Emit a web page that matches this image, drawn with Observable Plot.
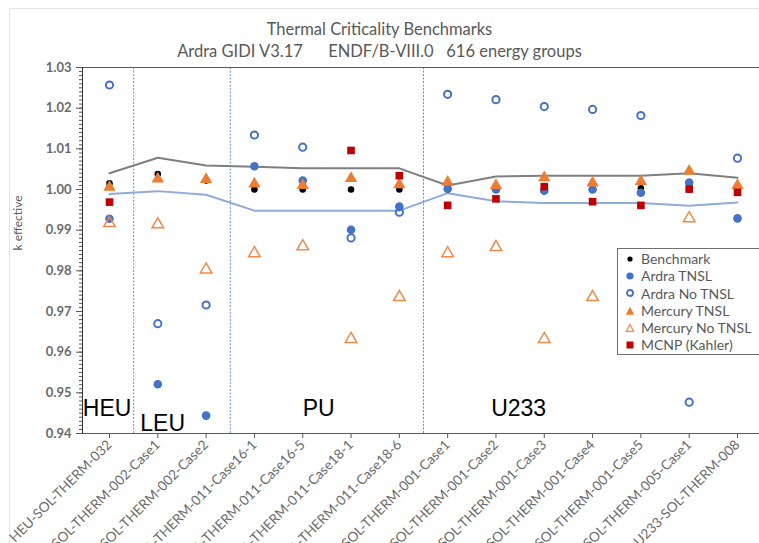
<!DOCTYPE html>
<html>
<head>
<meta charset="utf-8">
<script src="https://cdn.jsdelivr.net/npm/d3@7"></script>
<script src="https://cdn.jsdelivr.net/npm/@observablehq/plot@0.6"></script>
<style>
  html, body { margin: 0; padding: 0; background: #fff; }
  #wrap { position: relative; width: 759px; height: 543px; overflow: hidden; font-family: Lato, "Open Sans", sans-serif; }
  #wrap > svg { position: absolute; left: 0; top: 0; }
  #sheet { position: absolute; left: 9px; top: 8px; width: 760px; height: 540px; border-top: 1px solid #e3e3e3; border-left: 1px solid #e3e3e3; }
  .title { position: absolute; left: 0; width: 759px; text-align: center; color: #595959; font-size: 16.5px; white-space: pre; }
  #legend { position: absolute; left: 617px; top: 248px; width: 150px; height: 107px; border: 1px solid #6f6f6f; background: #fff; box-sizing: border-box; padding-top: 1px; }
  .li { height: 17.3px; line-height: 17.3px; font-size: 14px; color: #595959; display: flex; align-items: center; }
  .li svg { margin-left: 7px; margin-right: 6px; }
</style>
</head>
<body>
<div id="wrap">
  <div id="sheet"></div>
  <div class="title" style="top:19px">Thermal Criticality Benchmarks</div>
  <div class="title" style="top:41px">Ardra GIDI V3.17      ENDF/B-VIII.0   616 energy groups</div>
</div>
<script>
const categories = [
  "HEU-SOL-THERM-032",
  "LEU-SOL-THERM-002-Case1",
  "LEU-SOL-THERM-002-Case2",
  "PU-SOL-THERM-011-Case16-1",
  "PU-SOL-THERM-011-Case16-5",
  "PU-SOL-THERM-011-Case18-1",
  "PU-SOL-THERM-011-Case18-6",
  "U233-SOL-THERM-001-Case1",
  "U233-SOL-THERM-001-Case2",
  "U233-SOL-THERM-001-Case3",
  "U233-SOL-THERM-001-Case4",
  "U233-SOL-THERM-001-Case5",
  "U233-SOL-THERM-005-Case1",
  "U233-SOL-THERM-008"
];
const benchmark    = [1.0015, 1.0038, 1.0022, 1.0000, 1.0000, 1.0000, 1.0000, 1.0000, 1.0000, 1.0000, 1.0000, 1.0003, 1.0000, 1.0000];
const ardraTNSL    = [0.9928, 0.9521, 0.9444, 1.0057, 1.0022, 0.9901, 0.9958, 1.0002, 1.0000, 0.9997, 1.0000, 0.9992, 1.0017, 0.9929];
const ardraNoTNSL  = [1.0257, 0.9670, 0.9716, 1.0134, 1.0104, 0.9881, 0.9944, 1.0234, 1.0221, 1.0204, 1.0197, 1.0182, 0.9477, 1.0077];
const mercuryTNSL  = [1.0006, 1.0026, 1.0025, 1.0014, 1.0010, 1.0027, 1.0012, 1.0018, 1.0010, 1.0029, 1.0016, 1.0020, 1.0045, 1.0010];
const mercuryNoTNSL= [0.9917, 0.9914, 0.9803, 0.9843, 0.9860, 0.9632, 0.9735, 0.9843, 0.9858, 0.9632, 0.9735, null, 0.9929, null];
const mcnpKahler   = [0.9969, null, null, null, null, 1.0096, 1.0034, 0.9961, 0.9977, 1.0007, 0.9970, 0.9961, 1.0001, 0.9993];
const upperBand    = [1.0040, 1.0078, 1.0059, 1.0056, 1.0052, 1.0052, 1.0052, 1.0010, 1.0032, 1.0034, 1.0034, 1.0034, 1.0040, 1.0029];
const lowerBand    = [0.9989, 0.9996, 0.9987, 0.9948, 0.9948, 0.9948, 0.9948, 0.9991, 0.9971, 0.9967, 0.9967, 0.9967, 0.9960, 0.9968];
const separators   = [1.5, 3.5, 7.5];
const regionNames  = ["HEU", "LEU", "PU", "U233"];
const regionX      = [0.95, 2.1, 5.33, 9.47];
const regionY      = [0.9462, 0.9425, 0.9462, 0.9462];
const yTicks       = [0.94, 0.95, 0.96, 0.97, 0.98, 0.99, 1.00, 1.01, 1.02, 1.03];

const idx = categories.map((_, i) => i + 1);
const rows = vals => vals.map((v, i) => ({x: i + 1, y: v})).filter(d => d.y != null);
const minorTicks = d3.range(0, 91).map(i => 0.94 + i * 0.001);
const regions = regionNames.map((n, i) => ({name: n, x: regionX[i], y: regionY[i]}));

const BLUE = "#4472C4", ORANGE = "#ED7D31", RED = "#C00000", AX = "#595959";

const chart = Plot.plot({
  width: 759, height: 543,
  marginLeft: 82, marginRight: 0, marginTop: 67, marginBottom: 110,
  x: {type: "linear", domain: [1, 14], range: [109, 737]},
  y: {domain: [0.94, 1.03]},
  style: {fontFamily: "Lato, 'Open Sans', sans-serif", background: "transparent"},
  marks: [
    Plot.ruleX(separators, {stroke: BLUE, strokeDasharray: "2,1.5", strokeWidth: 1, strokeOpacity: 0.8}),
    Plot.axisY({ticks: minorTicks, tickSize: 3, tickFormat: () => "", label: null, stroke: AX}),
    Plot.axisY({ticks: yTicks, tickSize: 6, tickPadding: 5, tickFormat: d3.format(".2f"), label: null,
      fontSize: 13, fontWeight: "bold", fill: "#6a6a6a", stroke: AX}),
    Plot.axisX({ticks: idx, tickFormat: i => categories[i - 1], tickRotate: -45, tickSize: 5, tickPadding: 4,
      label: null, fontSize: 13.6, fill: "#6a6a6a", stroke: AX}),
    Plot.text(["k effective"], {frameAnchor: "left", dx: -64, rotate: -90, fontSize: 12, fill: AX}),
    Plot.frame({anchor: "top", stroke: AX}),
    Plot.frame({anchor: "left", stroke: "#333"}),
    Plot.frame({anchor: "bottom", stroke: AX}),
    Plot.lineY(rows(upperBand), {x: "x", y: "y", stroke: "#7f7f7f", strokeWidth: 2}),
    Plot.lineY(rows(lowerBand), {x: "x", y: "y", stroke: "#8FAADC", strokeWidth: 2}),
    Plot.dot(rows(benchmark), {x: "x", y: "y", r: 3.3, fill: "#000"}),
    Plot.dot(rows(ardraTNSL), {x: "x", y: "y", r: 4.3, fill: BLUE}),
    Plot.dot(rows(ardraNoTNSL), {x: "x", y: "y", r: 3.6, stroke: BLUE, strokeWidth: 2, fill: "none"}),
    Plot.dot(rows(mercuryTNSL), {x: "x", y: "y", r: 4.6, symbol: "triangle", fill: ORANGE}),
    Plot.dot(rows(mercuryNoTNSL), {x: "x", y: "y", r: 4.3, symbol: "triangle", stroke: "#F08A4B", strokeWidth: 1.5, fill: "none"}),
    Plot.dot(rows(mcnpKahler), {x: "x", y: "y", r: 4.3, symbol: "square", fill: RED}),
    Plot.text(regions, {x: "x", y: "y", text: "name", fontSize: 23, fill: "#000", fontFamily: "'Liberation Sans', Arial, sans-serif"})
  ]
});
const wrap = document.getElementById("wrap");
wrap.insertBefore(chart, document.getElementById("sheet").nextSibling);

// legend
const legendItems = [
  {label: "Benchmark", draw: s => s.append("circle").attr("cx", 5).attr("cy", 5).attr("r", 2.6).attr("fill", "#000")},
  {label: "Ardra TNSL", draw: s => s.append("circle").attr("cx", 5).attr("cy", 5).attr("r", 3.6).attr("fill", BLUE)},
  {label: "Ardra No TNSL", draw: s => s.append("circle").attr("cx", 5).attr("cy", 5).attr("r", 3).attr("fill", "none").attr("stroke", BLUE).attr("stroke-width", 1.8)},
  {label: "Mercury TNSL", draw: s => s.append("path").attr("d", "M5,0.8L9.3,8.8L0.7,8.8Z").attr("fill", ORANGE)},
  {label: "Mercury No TNSL", draw: s => s.append("path").attr("d", "M5,1.5L8.6,8.3L1.4,8.3Z").attr("fill", "none").attr("stroke", "#F08A4B").attr("stroke-width", 1.3)},
  {label: "MCNP (Kahler)", draw: s => s.append("rect").attr("x", 1.5).attr("y", 1.5).attr("width", 7).attr("height", 7).attr("fill", RED)}
];
const legend = d3.select(wrap).append("div").attr("id", "legend");
legendItems.forEach(it => {
  const row = legend.append("div").attr("class", "li");
  const s = row.append("svg").attr("width", 10).attr("height", 10);
  it.draw(s);
  row.append("span").text(it.label);
});
</script>
</body>
</html>
